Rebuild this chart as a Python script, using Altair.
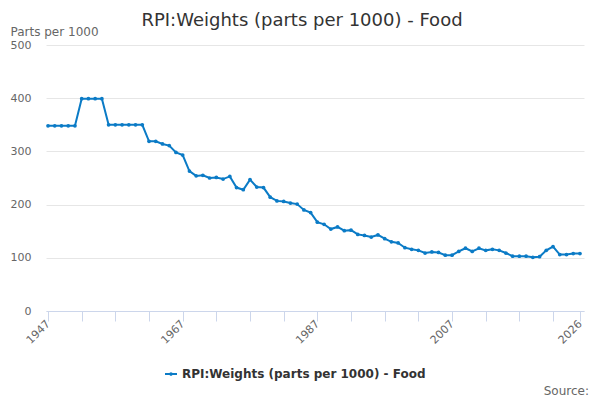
import altair as alt
import pandas as pd

years = list(range(1947, 2027))
values = [
    348, 348, 348, 348, 348,            # 1947-1951
    399, 399, 399, 399,                 # 1952-1955
    350, 350, 350, 350, 350, 350,       # 1956-1961
    319, 319, 314, 311, 298, 293,       # 1962-1967
    263, 254, 255, 250, 251, 248, 253,  # 1968-1974
    232, 228, 247, 233, 232,            # 1975-1979
    214, 207, 206, 203, 201, 190, 185,  # 1980-1986
    167, 163, 154, 158, 151, 152,       # 1987-1992
    144, 142, 139, 143, 136, 130, 128,  # 1993-1999
    119, 116, 114, 109, 111, 110, 105,  # 2000-2006
    105, 112, 118, 112, 118, 114, 116,  # 2007-2013
    114, 109, 103, 103, 103, 101, 102,  # 2014-2020
    114, 121, 106, 106, 108, 108,       # 2021-2026
]
series_name = "RPI:Weights (parts per 1000) - Food"
tick_years = [1947, 1952, 1957, 1962, 1967, 1972, 1977, 1982, 1987, 1992,
              1997, 2002, 2007, 2012, 2017, 2022, 2026]
label_years = [1947, 1967, 1987, 2007, 2026]

COLOR = "#0b7bc6"

df = pd.DataFrame({"year": years, "value": values, "series": [series_name] * len(years)})

x_enc = alt.X(
    "year:Q",
    scale=alt.Scale(domain=[1946.7, 2026.6], nice=False, zero=False),
    axis=alt.Axis(
        title=None,
        values=tick_years,
        labelExpr="indexof(" + str(label_years) + ", datum.value) >= 0 ? format(datum.value, 'd') : ''",
        labelAngle=-45,
        labelAlign="right",
        labelBaseline="middle",
        labelPadding=1,
        labelFlush=False,
        labelOverlap=False,
        labelBound=False,
        tickSize=10,
        tickColor="#ccd6eb",
        domainColor="#ccd6eb",
        grid=False,
        labelColor="#666666",
        labelFontSize=11,
    ),
)
y_enc = alt.Y(
    "value:Q",
    scale=alt.Scale(domain=[0, 500], nice=False),
    axis=alt.Axis(
        values=[0, 100, 200, 300, 400, 500],
        title="Parts per 1000",
        titleAngle=0,
        titleAlign="left",
        titleBaseline="alphabetic",
        titleX=-36,
        titleY=-10,
        titleFontSize=12,
        titleFontWeight="normal",
        titleColor="#666666",
        labelColor="#666666",
        labelFontSize=11,
        labelPadding=15,
        labelBaseline="middle",
        domain=False,
        ticks=False,
        grid=True,
        gridColor="#e6e6e6",
        format="d",
    ),
)

line = alt.Chart(df).mark_line(color=COLOR, strokeWidth=2).encode(x=x_enc, y=y_enc)

legend_symbol = ("M-1,-0.17 L1,-0.17 L1,0.17 L-1,0.17 Z "
                 "M-0.3,0 A0.3,0.3 0 1,1 0.3,0 A0.3,0.3 0 1,1 -0.3,0 Z")

points = alt.Chart(df).mark_circle(size=14, opacity=1).encode(
    x=x_enc,
    y=y_enc,
    color=alt.Color(
        "series:N",
        scale=alt.Scale(range=[COLOR]),
        legend=alt.Legend(
            title=None,
            orient="none",
            legendX=119,
            legendY=323,
            padding=0,
            symbolType=legend_symbol,
            symbolSize=144,
            symbolFillColor=COLOR,
            symbolStrokeWidth=0,
            symbolOpacity=1,
            labelOffset=5,
            labelFontSize=12,
            labelFontWeight="bold",
            labelColor="#333333",
            labelLimit=400,
        ),
    ),
)

source = alt.Chart(pd.DataFrame({"t": ["Source:"]})).mark_text(
    align="right", baseline="alphabetic", fontSize=12, color="#666666"
).encode(text="t:N", x=alt.value(543), y=alt.value(350))

chart = alt.layer(line, points, source).properties(
    width=538,
    height=266,
    title=alt.Title(
        "RPI:Weights (parts per 1000) - Food",
        fontSize=18,
        fontWeight="normal",
        color="#333333",
        anchor="middle",
        dx=-13,
        dy=19,
        offset=14,
    ),
    autosize=alt.AutoSizeParams(type="none"),
    padding={"left": 38, "top": 37, "right": 8, "bottom": 95},
).configure(font="DejaVu Sans").configure_view(stroke=None)

chart.save("out.html", embed_options={"renderer": "svg", "actions": False})
